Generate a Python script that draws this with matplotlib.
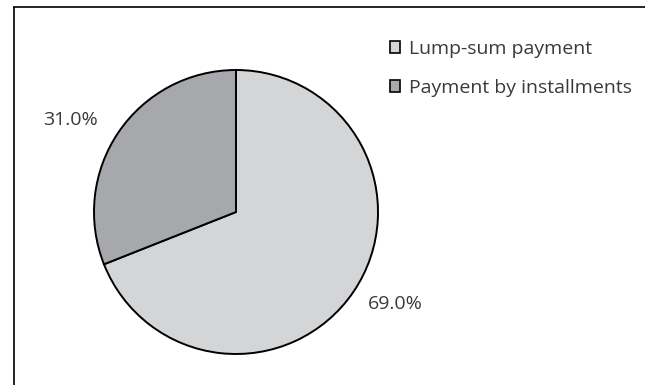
import matplotlib
matplotlib.use('Agg')
import matplotlib.pyplot as plt
from matplotlib.patches import Patch

plt.rcParams['font.family'] = ['Open Sans', 'DejaVu Sans']

categories = ['Lump-sum payment', 'Payment by installments']
shares = [69.0, 31.0]
colors = ['#d4d5d7', '#a7a8ac']
text_color = '#3a3a3a'

W, H = 645, 385
fig = plt.figure(figsize=(W / 100, H / 100), dpi=100)
ax = fig.add_axes([0, 0, 1, 1])

# pixel-like data coordinates, y going up
cx, cy, r = 236, H - 212, 142
wedges, _ = ax.pie(shares, colors=colors, startangle=90, counterclock=False,
                   center=(cx, cy), radius=r,
                   wedgeprops=dict(edgecolor='black', linewidth=1.4))
ax.set_xlim(0, W)
ax.set_ylim(0, H)
ax.set_aspect('equal')
ax.axis('off')

# percentage labels, offsets relative to the radius
label_pos = [(1.12, -0.648), (-1.169, 0.648)]
for val, (dx, dy) in zip(shares, label_pos):
    ax.text(cx + dx * r, cy + dy * r, f'{val:.1f}%', ha='center', va='center',
            fontsize=14, color=text_color)

# outer frame: only left and top edges show
ax.plot([13.5, 13.5], [0, H - 7], color='black', lw=1.2, solid_capstyle='butt')
ax.plot([13, W], [H - 7, H - 7], color='black', lw=1.2, solid_capstyle='butt')

handles = [Patch(facecolor=c, edgecolor='black', linewidth=1.2) for c in colors]
leg = ax.legend(handles, categories, loc='upper left',
                bbox_to_anchor=(382 / W, 1 - 32 / H), frameon=False,
                fontsize=14, handlelength=0.55, handleheight=0.55,
                handletextpad=0.45, labelspacing=1.08, borderaxespad=0)
for t in leg.get_texts():
    t.set_color(text_color)

fig.savefig('out.png', dpi=100)
